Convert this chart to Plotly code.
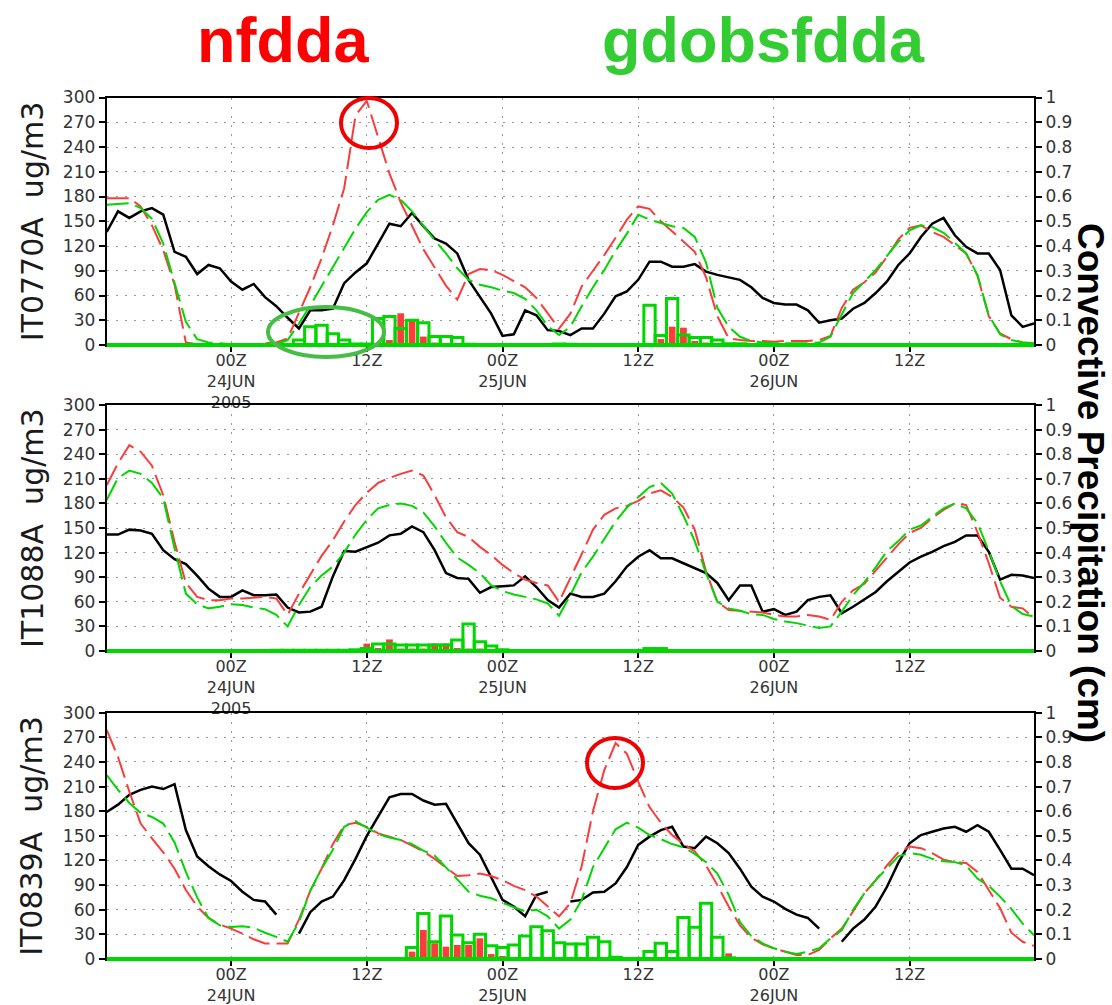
import plotly.graph_objects as go
import pandas as pd

W, H = 1112, 1005

# ---------------- data ----------------
times = pd.date_range("2005-06-23 13:00", periods=83, freq="h")

stations = ["IT0770A", "IT1088A", "IT0839A"]
run_names = ["nfdda", "gdobsfdda"]
tick_times = ["2005-06-24 00:00", "2005-06-24 12:00", "2005-06-25 00:00",
              "2005-06-25 12:00", "2005-06-26 00:00", "2005-06-26 12:00"]
tick_labels = ["00Z<br>24JUN<br>2005", "12Z", "00Z<br>25JUN", "12Z", "00Z<br>26JUN", "12Z"]
tick_labels_bottom = ["00Z<br>24JUN", "12Z", "00Z<br>25JUN", "12Z", "00Z<br>26JUN", "12Z"]

# hourly values, 23JUN 13Z ... 26JUN 23Z  (rows: -11..0, 1..12, 13..24, 25..36, 37..48, 49..60, 61..71 h)
obs_it0770a = [137, 162, 154, 162, 166, 158, 113, 107, 86, 97, 93, 77,
               67, 74, 58, 47, 33, 20, 42, 42, 44, 75, 88, 99,
               123, 147, 144, 160, 144, 129, 123, 111, 79, 59, 38, 11,
               13, 42, 36, 18, 17, 12, 20, 20, 38, 59, 65, 79,
               101, 101, 95, 95, 98, 89, 85, 82, 79, 70, 57, 51,
               49, 49, 42, 27, 30, 32, 44, 51, 63, 77, 97, 111,
               131, 147, 154, 133, 119, 111, 111, 91, 36, 22, 26]
nfdda_it0770a = [178, 178, 178, 168, 145, 115, 73, 3, 1, 1, 1, 1,
                 1, 1, 2, 3, 8, 38, 70, 105, 145, 190, 278, 296,
                 253, 208, 173, 144, 116, 94, 72, 55, 86, 92, 91, 85,
                 78, 70, 57, 38, 20, 38, 71, 90, 109, 130, 152, 168,
                 165, 150, 138, 125, 113, 82, 35, 8, 6, 5, 5, 4,
                 5, 5, 5, 6, 11, 45, 67, 76, 88, 107, 128, 142,
                 145, 137, 131, 121, 111, 84, 35, 14, 7, 3, 2]
gdobs_it0770a = [170, 171, 172, 166, 153, 123, 75, 28, 7, 3, 2, 1,
                 1, 1, 1, 1, 6, 26, 48, 71, 95, 118, 141, 161,
                 176, 182, 176, 162, 144, 127, 111, 93, 79, 73, 70, 66,
                 63, 56, 42, 23, 12, 22, 47, 70, 91, 114, 135, 158,
                 152, 148, 144, 142, 131, 100, 45, 22, 10, 5, 3, 2,
                 2, 2, 2, 3, 10, 37, 63, 77, 91, 108, 125, 139,
                 145, 143, 136, 124, 111, 85, 36, 13, 6, 3, 2]
prec_nfdda_it0770a = [0, 0, 0, 0, 0, 0, 0, 0, 0, 0, 0, 0,
                      0, 0, 0, 0, 0, 0, 0, 0, 0, 0, 0, 0,
                      0, 0.02, 0.128, 0.1, 0.034, 0.01, 0, 0, 0, 0, 0, 0,
                      0, 0, 0, 0, 0, 0, 0, 0, 0, 0, 0, 0,
                      0, 0.024, 0.074, 0.07, 0.016, 0.01, 0, 0, 0, 0, 0, 0,
                      0, 0, 0, 0, 0, 0, 0, 0, 0, 0, 0, 0,
                      0, 0, 0, 0, 0, 0, 0, 0, 0, 0, 0]
prec_gdobs_it0770a = [0, 0, 0, 0, 0, 0, 0, 0, 0, 0, 0, 0,
                      0, 0, 0, 0, 0, 0.02, 0.074, 0.08, 0.045, 0.02, 0.004, 0.004,
                      0.107, 0.115, 0.067, 0.1, 0.09, 0.034, 0.034, 0.03, 0.003, 0, 0, 0,
                      0, 0, 0, 0, 0.004, 0.003, 0, 0, 0, 0, 0, 0,
                      0.161, 0.038, 0.188, 0.04, 0.03, 0.03, 0.02, 0.005, 0.005, 0, 0, 0,
                      0, 0, 0, 0, 0, 0, 0, 0, 0, 0, 0, 0,
                      0, 0, 0, 0, 0, 0, 0, 0, 0, 0, 0]

obs_it1088a = [142, 142, 148, 147, 143, 123, 112, 106, 92, 76, 66, 66,
               74, 68, 68, 69, 53, 47, 48, 54, 91, 122, 121, 127,
               132, 141, 143, 152, 145, 123, 95, 89, 88, 71, 78, 79,
               80, 91, 78, 62, 53, 70, 66, 66, 70, 85, 103, 115,
               123, 113, 113, 107, 101, 95, 83, 62, 80, 80, 48, 51,
               44, 48, 62, 66, 68, 46, 54, 63, 72, 85, 97, 108,
               115, 121, 128, 133, 141, 141, 121, 87, 93, 92, 89]
nfdda_it1088a = [202, 229, 251, 243, 226, 190, 133, 83, 66, 62, 62, 64,
                 64, 65, 66, 64, 44, 70, 93, 116, 135, 158, 178, 193,
                 205, 211, 216, 220, 214, 190, 163, 145, 139, 127, 117, 105,
                 95, 87, 83, 80, 60, 88, 118, 148, 166, 174, 177, 183,
                 192, 196, 188, 175, 148, 97, 60, 50, 49, 48, 47, 44,
                 42, 42, 44, 42, 38, 60, 74, 82, 98, 113, 130, 144,
                 150, 162, 172, 180, 178, 145, 107, 65, 54, 52, 40]
gdobs_it1088a = [184, 211, 220, 216, 205, 186, 125, 70, 57, 52, 54, 57,
                 56, 53, 51, 44, 30, 56, 78, 92, 103, 120, 142, 160,
                 174, 178, 180, 177, 169, 152, 132, 114, 105, 95, 80, 73,
                 69, 66, 63, 58, 43, 68, 96, 115, 137, 158, 175, 188,
                 200, 205, 192, 165, 134, 95, 60, 52, 49, 45, 44, 39,
                 36, 34, 31, 28, 30, 48, 68, 84, 102, 122, 134, 148,
                 153, 164, 174, 180, 174, 156, 122, 85, 55, 45, 42]
prec_nfdda_it1088a = [0, 0, 0, 0, 0, 0, 0, 0, 0, 0, 0, 0,
                      0, 0, 0.007, 0.007, 0.007, 0.007, 0, 0, 0, 0, 0, 0.03,
                      0.012, 0.047, 0.01, 0.01, 0.01, 0.031, 0.031, 0.012, 0.01, 0.01, 0, 0,
                      0, 0, 0, 0, 0, 0, 0, 0, 0, 0, 0, 0,
                      0, 0, 0, 0, 0, 0, 0, 0, 0, 0, 0, 0,
                      0, 0, 0, 0, 0, 0, 0, 0, 0, 0, 0, 0,
                      0, 0, 0, 0, 0, 0, 0, 0, 0, 0, 0]
prec_gdobs_it1088a = [0, 0, 0, 0, 0, 0, 0, 0, 0, 0, 0, 0,
                      0, 0, 0, 0.003, 0.003, 0.003, 0.003, 0.003, 0.003, 0.003, 0.005, 0.01,
                      0.028, 0.028, 0.024, 0.024, 0.024, 0.024, 0.024, 0.045, 0.11, 0.038, 0.02, 0.005,
                      0, 0, 0, 0, 0, 0, 0, 0, 0, 0, 0, 0,
                      0.01, 0.01, 0, 0, 0, 0, 0, 0, 0, 0, 0, 0,
                      0, 0, 0, 0, 0, 0, 0, 0, 0, 0, 0, 0,
                      0, 0, 0, 0, 0, 0, 0, 0, 0, 0, 0]

obs_it0839a = [179, 188, 200, 206, 210, 207, 213, 157, 125, 113, 103, 95,
               82, 72, 70, 54, None, 31, 57, 70, 76, 96, 122, 150,
               173, 197, 201, 201, 193, 188, 189, 165, 141, 127, 100, 72,
               64, 52, 78, 82, None, 70, 72, 81, 82, 92, 112, 139,
               149, 157, 161, 137, 135, 149, 141, 129, 110, 88, 76, 70,
               61, 54, 50, 37, None, 21, 37, 48, 64, 88, 117, 141,
               151, 155, 159, 161, 155, 163, 155, 133, 110, 110, 102]
nfdda_it0839a = [279, 246, 204, 165, 147, 130, 110, 84, 64, 50, 42, 37,
                 31, 24, 19, 19, 19, 48, 83, 110, 140, 163, 166, 161,
                 153, 149, 145, 138, 131, 122, 111, 101, 102, 104, 101, 96,
                 89, 84, 76, 64, 52, 68, 113, 180, 230, 263, 250, 216,
                 185, 166, 151, 140, 131, 114, 90, 64, 41, 26, 18, 13,
                 9, 5, 5, 11, 25, 37, 58, 80, 96, 114, 130, 137,
                 135, 129, 121, 118, 117, 106, 84, 62, 32, 21, 16]
gdobs_it0839a = [224, 206, 190, 178, 173, 165, 142, 106, 75, 50, 41, 39,
                 40, 38, 32, 27, 21, 45, 83, 110, 133, 161, 168, 160,
                 152, 148, 145, 140, 132, 126, 112, 97, 82, 77, 74, 68,
                 63, 58, 60, 52, 37, 48, 72, 112, 135, 158, 166, 160,
                 151, 146, 140, 136, 128, 118, 104, 78, 45, 28, 19, 13,
                 9, 6, 9, 13, 25, 35, 60, 80, 96, 110, 125, 129,
                 127, 122, 119, 118, 114, 98, 89, 76, 61, 43, 29]
prec_nfdda_it0839a = [0, 0, 0, 0, 0, 0, 0, 0, 0, 0, 0, 0,
                      0, 0, 0, 0, 0, 0, 0, 0, 0, 0, 0, 0,
                      0, 0, 0, 0.03, 0.118, 0.064, 0.05, 0.057, 0.057, 0.084, 0.02, 0.012,
                      0, 0, 0, 0, 0, 0, 0, 0, 0, 0, 0, 0,
                      0, 0, 0, 0, 0, 0, 0, 0.023, 0, 0, 0, 0,
                      0, 0, 0, 0, 0, 0, 0, 0, 0, 0, 0, 0,
                      0, 0, 0, 0, 0, 0, 0, 0, 0, 0, 0]
prec_gdobs_it0839a = [0, 0, 0, 0, 0, 0, 0, 0, 0, 0, 0, 0,
                      0, 0, 0, 0, 0, 0, 0, 0, 0, 0, 0, 0,
                      0, 0, 0, 0.047, 0.185, 0.07, 0.175, 0.097, 0.066, 0.1, 0.054, 0.047,
                      0.057, 0.093, 0.131, 0.115, 0.066, 0.061, 0.061, 0.088, 0.07, 0.007, 0, 0,
                      0.03, 0.064, 0.03, 0.169, 0.129, 0.226, 0.088, 0.005, 0, 0, 0, 0,
                      0, 0, 0, 0, 0, 0, 0, 0, 0, 0, 0, 0,
                      0, 0, 0, 0, 0, 0, 0, 0, 0, 0, 0]

panels = [
    (obs_it0770a, nfdda_it0770a, gdobs_it0770a, prec_nfdda_it0770a, prec_gdobs_it0770a),
    (obs_it1088a, nfdda_it1088a, gdobs_it1088a, prec_nfdda_it1088a, prec_gdobs_it1088a),
    (obs_it0839a, nfdda_it0839a, gdobs_it0839a, prec_nfdda_it0839a, prec_gdobs_it0839a),
]

# ---------------- style ----------------
RED = "rgb(250,60,60)"
GREEN = "rgb(0,215,0)"
BLACK = "black"
FONT = "DejaVu Sans"
TICKCOL = "#333333"
HOUR_MS = 3600 * 1000

def px(x):
    return x / W

def py(y):
    return 1 - y / H

x_dom = [px(106.7), px(1034)]
panel_px = [(97.5, 345), (405, 651), (712.7, 959)]

fig = go.Figure()
layout = dict(
    width=W, height=H,
    margin=dict(l=0, r=0, t=0, b=0, autoexpand=False),
    paper_bgcolor="white", plot_bgcolor="white",
    showlegend=False, barmode="overlay",
    font=dict(family=FONT, color=TICKCOL),
)
shapes = []
annotations = []

for k, (obs, nf, gd, pnf, pgd) in enumerate(panels):
    xn = "" if k == 0 else str(k + 1)
    yp = str(2 * k + 1)   # precipitation axis (right)
    yc = str(2 * k + 2)   # concentration axis (left, overlaying)
    yp_ref = "y" if yp == "1" else "y" + yp
    yc_ref = "y" + yc
    x_ref = "x" + xn

    top, bot = panel_px[k]
    dom = [py(bot), py(top)]

    # precipitation bars
    fig.add_trace(go.Bar(x=times, y=pnf, width=0.6 * HOUR_MS,
                         marker=dict(color=RED, line=dict(width=0)),
                         xaxis=x_ref, yaxis=yp_ref))
    fig.add_trace(go.Bar(x=times, y=pgd, width=1.0 * HOUR_MS,
                         marker=dict(color="rgba(0,0,0,0)", line=dict(color=GREEN, width=3)),
                         xaxis=x_ref, yaxis=yp_ref))
    # concentration lines
    fig.add_trace(go.Scatter(x=times, y=obs, mode="lines",
                             line=dict(color=BLACK, width=2.5),
                             connectgaps=False, xaxis=x_ref, yaxis=yc_ref))
    fig.add_trace(go.Scatter(x=times, y=nf, mode="lines",
                             line=dict(color=RED, width=2, dash="22px,7px"),
                             xaxis=x_ref, yaxis=yc_ref))
    fig.add_trace(go.Scatter(x=times, y=gd, mode="lines",
                             line=dict(color=GREEN, width=2, dash="22px,7px"),
                             xaxis=x_ref, yaxis=yc_ref))

    layout["xaxis" + xn] = dict(
        domain=x_dom, anchor=yp_ref, automargin=False,
        type="date", range=["2005-06-23 13:00", "2005-06-26 23:00"],
        tickmode="array", tickvals=tick_times,
        ticktext=tick_labels if k < 2 else tick_labels_bottom,
        ticks="outside", ticklen=5, tickwidth=1.5, tickcolor=BLACK,
        ticklabelstandoff=-5,
        tickfont=dict(family=FONT, size=16, color=TICKCOL),
        showline=True, mirror=True, linecolor=BLACK, linewidth=2,
        showgrid=True, gridcolor="#9a9a9a", gridwidth=1, griddash="2px,7px",
        zeroline=False,
    )
    layout["yaxis" + yp] = dict(
        domain=dom, anchor=x_ref, side="right", automargin=False,
        range=[0, 1], tickmode="linear", tick0=0, dtick=0.1,
        ticks="outside", ticklen=6, tickwidth=1.5, tickcolor=BLACK,
        tickfont=dict(family=FONT, size=17, color=TICKCOL),
        showline=True, linecolor=BLACK, linewidth=2,
        showgrid=False, zeroline=False,
    )
    layout["yaxis" + yc] = dict(
        domain=dom, anchor=x_ref, overlaying=yp_ref, side="left", automargin=False,
        range=[0, 300], tickmode="linear", tick0=0, dtick=30,
        ticks="outside", ticklen=6, tickwidth=1.5, tickcolor=BLACK,
        tickfont=dict(family=FONT, size=17, color=TICKCOL),
        showline=True, linecolor=BLACK, linewidth=2,
        showgrid=True, gridcolor="#9a9a9a", gridwidth=1, griddash="2px,7px",
        zeroline=False,
    )

    # green zero baseline of the precipitation histogram
    shapes.append(dict(type="line", xref=x_ref + " domain", yref=yp_ref + " domain",
                       x0=0, x1=1, y0=0, y1=0, line=dict(color=GREEN, width=4), layer="above"))

    # station / unit label
    annotations.append(dict(text=stations[k] + "  ug/m3", xref="paper", yref="paper",
                            x=px(32), y=py((top + bot) / 2), textangle=-90,
                            showarrow=False, xanchor="center", yanchor="middle",
                            font=dict(family=FONT, size=30, color="#1a1a1a")))

# highlight marks
shapes.append(dict(type="circle", xref="paper", yref="paper",
                   x0=px(341), x1=px(397), y0=py(148), y1=py(98),
                   line=dict(color="rgb(240,0,0)", width=4), layer="above"))
shapes.append(dict(type="circle", xref="paper", yref="paper",
                   x0=px(268), x1=px(384), y0=py(357), y1=py(307),
                   line=dict(color="rgb(70,190,70)", width=4), layer="above"))
shapes.append(dict(type="circle", xref="paper", yref="paper",
                   x0=px(587), x1=px(643), y0=py(788), y1=py(738),
                   line=dict(color="rgb(240,0,0)", width=4), layer="above"))

# run titles
annotations.append(dict(text="<b>" + run_names[0] + "</b>", xref="paper", yref="paper",
                        x=px(283), y=py(40), showarrow=False, xanchor="center", yanchor="middle",
                        font=dict(family="Liberation Sans", size=63, color="rgb(255,0,0)")))
annotations.append(dict(text="<b>" + run_names[1] + "</b>", xref="paper", yref="paper",
                        x=px(764), y=py(40), showarrow=False, xanchor="center", yanchor="middle",
                        font=dict(family="Liberation Sans", size=63, color="rgb(51,204,51)")))
# right axis title
annotations.append(dict(text="<b>Convective Precipitation (cm)</b>", xref="paper", yref="paper",
                        x=px(1090), y=py(483), textangle=90, showarrow=False,
                        xanchor="center", yanchor="middle",
                        font=dict(family="Liberation Sans", size=37, color="black")))

layout["shapes"] = shapes
layout["annotations"] = annotations
fig.update_layout(**layout)

fig.write_html("out.html")
